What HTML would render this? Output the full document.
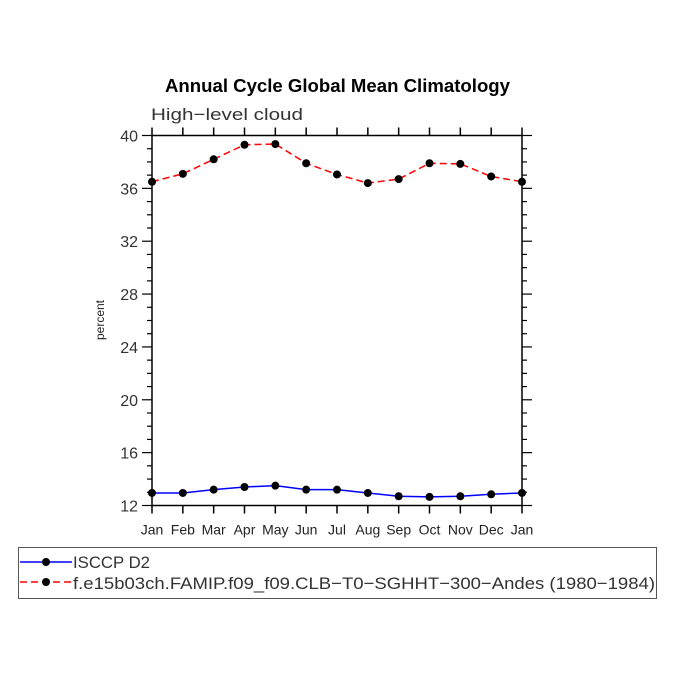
<!DOCTYPE html>
<html><head><meta charset="utf-8"><style>
body{margin:0;background:#fff}
svg text{font-family:"Liberation Sans",sans-serif}
</style></head><body>
<svg id="chart" width="675" height="675" xmlns="http://www.w3.org/2000/svg">
<text x="165" y="92" font-size="18" font-weight="bold" textLength="345" lengthAdjust="spacingAndGlyphs">Annual Cycle Global Mean Climatology</text>
<text x="151" y="120" font-size="17" fill="#333" textLength="152" lengthAdjust="spacingAndGlyphs">High−level cloud</text>
<text transform="translate(104,320) rotate(-90)" text-anchor="middle" font-size="12" fill="#222">percent</text>
<g id="axes"></g>
<g id="series"></g>
<g>
<rect x="18.5" y="547.5" width="638" height="51" fill="none" stroke="#555" stroke-width="1"/>
<line x1="20" y1="562" x2="72" y2="562" stroke="#0000ff" stroke-width="1.5"/>
<circle cx="46" cy="562" r="4" fill="#000"/>
<text x="73" y="568" font-size="17" fill="#333" textLength="77" lengthAdjust="spacingAndGlyphs">ISCCP D2</text>
<line x1="20" y1="582" x2="72" y2="582" stroke="#ff0000" stroke-width="1.5" stroke-dasharray="7,4"/>
<circle cx="46" cy="582" r="4" fill="#000"/>
<text x="73" y="589" font-size="17" fill="#333" textLength="582" lengthAdjust="spacingAndGlyphs">f.e15b03ch.FAMIP.f09_f09.CLB−T0−SGHHT−300−Andes (1980−1984)</text>
</g>
</svg>
<script>
const months = ["Jan","Feb","Mar","Apr","May","Jun","Jul","Aug","Sep","Oct","Nov","Dec","Jan"];
const isccp = [12.95,12.95,13.2,13.4,13.5,13.2,13.2,12.95,12.7,12.65,12.7,12.85,12.95];
const model = [36.5,37.1,38.2,39.3,39.35,37.9,37.05,36.4,36.7,37.9,37.85,36.9,36.5];
const yTicks = [12,16,20,24,28,32,36,40];
const NS="http://www.w3.org/2000/svg";
const L=152,R=522,T=135.5,B=505.5,yMin=12,yMax=40;
const x=i=>L+(R-L)*i/(months.length-1);
const y=v=>B-(B-T)*(v-yMin)/(yMax-yMin);
function mk(tag,attrs,parent){const e=document.createElementNS(NS,tag);for(const k in attrs)e.setAttribute(k,attrs[k]);parent.appendChild(e);return e;}
const ax=document.getElementById('axes');
const frame=mk('rect',{x:L,y:T,width:R-L,height:B-T,fill:'none',stroke:'#000','stroke-width':1.5},ax);


months.forEach((m,i)=>{
  const xx=x(i);
  mk('line',{x1:xx,y1:B,x2:xx,y2:B+8,stroke:'#000','stroke-width':1.5},ax);
  mk('line',{x1:xx,y1:T,x2:xx,y2:T-8,stroke:'#000','stroke-width':1.5},ax);
  const t=mk('text',{x:xx,y:B+29,'text-anchor':'middle','font-size':14,fill:'#222'},ax);
  t.textContent=m;
  
  
});
for(let v=yMin;v<=yMax;v++){
  const yy=y(v),maj=(v%4===0);
  const len=maj?10:5;
  mk('line',{x1:L-len,y1:yy,x2:L,y2:yy,stroke:'#000','stroke-width':1.2},ax);
  mk('line',{x1:R,y1:yy,x2:R+len,y2:yy,stroke:'#000','stroke-width':1.2},ax);
}
yTicks.forEach(v=>{
  const t=mk('text',{x:L-14,y:y(v)+6,'text-anchor':'end','font-size':16,fill:'#333'},ax);
  t.textContent=v;
  
  
});
const sg=document.getElementById('series');
function series(vals,color,dash,name){
  const p=mk('polyline',{points:vals.map((v,i)=>x(i)+','+y(v)).join(' '),fill:'none',stroke:color,'stroke-width':1.5,'stroke-dasharray':dash},sg);
  
  
  vals.forEach((v,i)=>{
    const c=mk('circle',{cx:x(i),cy:y(v),r:4,fill:'#000'},sg);
    
    
  });
}
series(isccp,'#0000ff','none','isccp');
series(model,'#ff0000','7,4','model');
</script>
</body></html>
